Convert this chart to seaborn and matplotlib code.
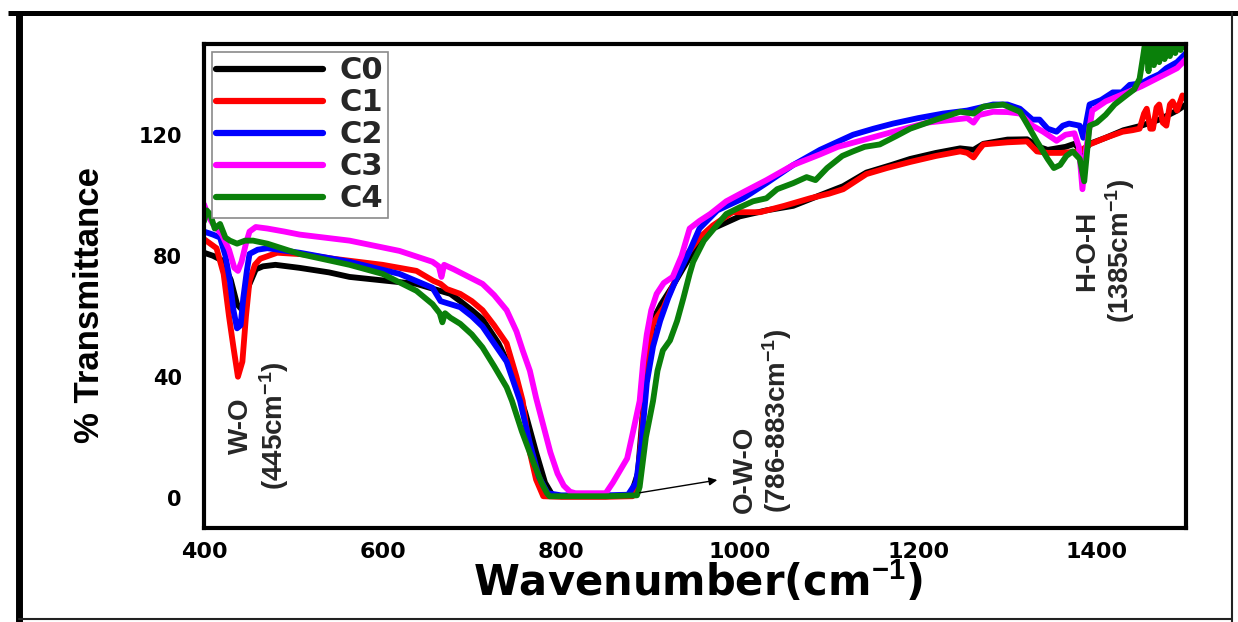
import matplotlib
matplotlib.use("Agg")
import matplotlib.pyplot as plt
import seaborn as sns
import pandas as pd
from matplotlib.lines import Line2D

# ---------------- data ----------------
labels = ["C0", "C1", "C2", "C3", "C4"]
colors = ["#000000", "#ff0000", "#0000ff", "#ff00ff", "#0a800a"]

c0_x = [400, 410, 420, 430, 437, 443, 450, 458, 466, 480, 507, 540, 563, 605, 638, 676, 687, 700, 712, 730, 746, 760, 772, 782, 790, 800, 850, 878,
        886, 892, 898, 905, 912, 925, 945, 970, 1000, 1030, 1060, 1090, 1116, 1142, 1170, 1191, 1220, 1247, 1262, 1273, 1300, 1322, 1335, 1345,
        1355, 1365, 1375, 1385, 1392, 1410, 1430, 1450, 1470, 1490, 1500]
c0_y = [81, 80, 78.5, 72, 64, 62, 70, 75.5, 76.5, 77, 76, 74.5, 73, 71.7, 70.7, 67.4, 65, 62, 59, 51, 41, 28, 15, 5, 1, 0.5, 0.5, 0.8,
        8, 30, 50, 60, 64, 70, 80, 89, 93, 95, 96.5, 100, 103, 107.5, 110, 112, 114, 115.5, 115, 117, 118.4, 118.5, 116, 115,
        115.5, 116, 117, 114, 117, 119, 121.5, 123, 125, 128, 130]

c1_x = [400, 407, 414, 422, 428, 433, 438, 443, 447, 451, 457, 463, 482, 510, 545, 600, 638, 657, 665, 672, 687, 700, 712, 725, 739, 750, 757,
        765, 772, 780, 800, 850, 880, 885, 890, 896, 902, 908, 915, 925, 940, 955, 970, 992, 1023, 1050, 1079, 1100, 1116, 1142, 1165, 1191,
        1220, 1247, 1255, 1262, 1268, 1273, 1300, 1322, 1333, 1345, 1360, 1381, 1392, 1410, 1429, 1440, 1448, 1453, 1456, 1460, 1463, 1467,
        1470, 1474, 1478, 1482, 1485, 1490, 1496, 1500]
c1_y = [85.5, 84, 82.5, 74, 60, 49.7, 40, 45, 60, 71.7, 77, 79, 81, 80.5, 79, 77, 75, 71.7, 70.7, 69, 67.4, 65, 62, 57, 51, 40, 32,
        15, 6, 0.5, 0.3, 0.3, 0.5, 3, 20, 45, 57, 60, 63, 70, 80, 86, 90, 94.4, 94.4, 96.5, 99, 100.5, 102, 107, 109, 111,
        113, 114.5, 114, 112.5, 115, 116.8, 117.5, 117.8, 114.5, 114, 114, 114.5, 116.8, 119, 121, 121.5, 122, 127, 128.6, 122, 122, 129,
        130, 124, 123, 130, 131, 128, 133, 132]

c2_x = [400, 410, 418, 424, 429, 433, 437, 441, 444, 448, 451, 460, 471, 507, 563, 619, 656, 665, 676, 687, 700, 712, 725, 739, 754, 765, 775,
        785, 800, 850, 875, 884, 890, 896, 903, 911, 920, 930, 944, 955, 975, 1004, 1030, 1060, 1090, 1127, 1150, 1172, 1200, 1228, 1255,
        1284, 1300, 1314, 1328, 1336, 1345, 1355, 1362, 1369, 1381, 1385, 1392, 1405, 1418, 1428, 1437, 1450, 1459, 1470, 1478, 1490, 1500]
c2_y = [88, 87, 86, 80, 71.7, 62, 56, 57, 66, 75, 80.6, 82, 82.5, 81, 78, 74, 69.4, 65, 64, 63, 60, 56.6, 51, 45, 32, 18, 7,
        1.5, 0.8, 0.8, 1, 5, 18, 38, 50, 58.5, 66, 73, 81.6, 89, 95, 99, 104, 110, 115, 120, 122, 123.7, 125.5, 127, 128,
        130, 130, 128.6, 125, 125, 122, 121, 123, 123.7, 123, 119, 130, 131.5, 134, 134, 136.5, 137, 138.5, 140, 142, 144, 147]

c3_x = [400, 405, 410, 420, 428, 434, 438, 442, 447, 451, 458, 471, 490, 507, 563, 619, 656, 663, 666, 669, 680, 690, 712, 725, 739, 750, 757,
        765, 772, 780, 788, 796, 803, 810, 816, 850, 858, 866, 874, 880, 888, 892, 896, 901, 907, 915, 925, 935, 944, 955, 967, 985, 1004,
        1030, 1060, 1090, 1110, 1135, 1172, 1210, 1240, 1255, 1262, 1268, 1284, 1300, 1314, 1328, 1340, 1355, 1365, 1375, 1380, 1384, 1388,
        1395, 1410, 1430, 1450, 1470, 1490, 1500]
c3_y = [97, 93, 90.5, 87, 82, 76, 75, 78, 84, 88, 89.5, 89, 88, 87, 85, 81.6, 78, 76.5, 73, 77, 75.5, 74, 70.7, 67, 62, 55, 48.7,
        42, 33, 24, 15, 8, 4, 2, 1.5, 1.5, 5, 9, 13, 21, 32, 45, 54, 62, 67.4, 71, 73, 80, 89, 91.5, 93.8, 98, 101,
        105, 110, 113.5, 116, 118, 121, 124, 125, 125.5, 124, 126.5, 127.6, 127.5, 127, 123, 121, 118, 120, 120.5, 116, 102, 115,
        128, 131, 133.5, 136, 139, 142, 145]

c4_x = [400, 403, 407, 412, 418, 424, 429, 437, 446, 455, 471, 507, 563, 600, 638, 656, 664, 667, 670, 676, 687, 700, 712, 725, 739, 745, 756,
        768, 778, 784, 787, 850, 885, 888, 895, 903, 908, 914, 922, 930, 937, 944, 948, 960, 985, 1000, 1015, 1030, 1042, 1060, 1075, 1085,
        1098, 1115, 1127, 1140, 1157, 1175, 1191, 1220, 1247, 1262, 1273, 1295, 1314, 1325, 1333, 1345, 1352, 1359, 1366, 1373, 1381, 1386,
        1392, 1400, 1410, 1420, 1433, 1442, 1448, 1452, 1455, 1458, 1461, 1464, 1467, 1470, 1473, 1476, 1479, 1482, 1485, 1488, 1491, 1494,
        1497, 1500]
c4_y = [91.4, 95, 93.7, 89, 90.5, 86, 85, 84, 85, 85, 84, 80.6, 77, 74, 68.4, 64, 61, 58, 61, 59.5, 57.5, 54, 49.7, 43.5, 36.5, 32, 22,
        12.5, 5, 1.6, 0.5, 0.5, 0.8, 3.6, 20, 32, 42, 48.7, 52, 58.5, 66, 74, 78, 85, 93.8, 96, 98, 99, 102, 104, 106, 105,
        109, 113, 114.5, 116, 116.8, 119.5, 122, 125, 127.6, 127, 129.3, 130, 127.6, 122, 117.8, 112, 109, 110, 113, 114.5, 112, 104.6,
        123, 124, 126.6, 130, 133, 135, 138.5, 146, 152, 141, 153, 143, 154, 144, 155, 145, 155, 146, 156, 147, 156, 148,
        156, 150]

xs = [c0_x, c1_x, c2_x, c3_x, c4_x]
ys = [c0_y, c1_y, c2_y, c3_y, c4_y]

x_major = [400, 600, 800, 1000, 1200, 1400]
x_minor = [500, 700, 900, 1100, 1300, 1500]
y_major = [0, 40, 80, 120]
y_minor = [20, 60, 100, 140]

# ---------------- styling ----------------
sns.set_style("white")
plt.rcParams["font.family"] = ["DejaVu Sans"]
plt.rcParams["mathtext.fontset"] = "custom"
plt.rcParams["mathtext.rm"] = "Liberation Sans:bold"
plt.rcParams["mathtext.it"] = "Liberation Sans:bold"
plt.rcParams["mathtext.bf"] = "Liberation Sans:bold"
plt.rcParams["mathtext.default"] = "rm"

NARROW = ["Liberation Sans", "DejaVu Sans"]

fig = plt.figure(figsize=(12.38, 6.22), dpi=100)
fig.patch.set_facecolor("white")
ax = fig.add_axes([204 / 1238, 1 - 528 / 622, (1186 - 204) / 1238, (528 - 44) / 622])

for lab, col, xv, yv in zip(labels, colors, xs, ys):
    df = pd.DataFrame({"Wavenumber": xv, "T": yv})
    sns.lineplot(data=df, x="Wavenumber", y="T", color=col, linewidth=4.2,
                 label=lab, ax=ax, estimator=None, sort=False)

ax.set_xlim(400, 1500)
ax.set_ylim(-10, 150)
ax.set_xticks(x_major)
ax.set_xticks(x_minor, minor=True)
ax.set_yticks(y_major)
ax.set_yticks(y_minor, minor=True)

for s in ax.spines.values():
    s.set_linewidth(3)
    s.set_color("black")
    s.set_visible(True)

ax.tick_params(axis="both", which="both", direction="out", width=2.5, color="black",
               top=False, right=False)
ax.tick_params(axis="y", which="major", length=9, pad=7)
ax.tick_params(axis="y", which="minor", length=9)
ax.tick_params(axis="x", which="major", length=8, pad=2)
ax.tick_params(axis="x", which="minor", length=6)
for t in ax.get_yticklabels():
    t.set_fontsize(15)
    t.set_fontweight("bold")
    t.set_color("black")
for t in ax.get_xticklabels():
    t.set_fontsize(16)
    t.set_fontweight("bold")
    t.set_color("black")

ax.set_xlabel(r"Wavenumber(cm$^{-1}$)", fontsize=30, fontweight="bold", family="DejaVu Sans", color="black")
ax.xaxis.set_label_coords(0.503, -0.065)
ax.set_ylabel("% Transmittance", fontsize=25, fontweight="bold", family=NARROW, color="black")
ax.yaxis.set_label_coords(-0.1, 0.46)

leg = ax.legend(loc="upper left", prop={"family": "DejaVu Sans", "weight": "bold", "size": 22},
                handlelength=3.5, handletextpad=0.55, labelspacing=0.1, borderpad=0.15,
                borderaxespad=0.25, frameon=True, fancybox=False, framealpha=1)
leg.get_frame().set_edgecolor("#8a8a8a")
leg.get_frame().set_linewidth(1.2)
for h in leg.get_lines():
    h.set_linewidth(4.5)

# annotations (rotated, anchored by their lower edge)
ax.text(462, 2.6, "W-O\n(445cm$^{-1}$)", rotation=90, ha="center", va="bottom",
        multialignment="center", fontsize=20, fontweight="bold", family=NARROW, linespacing=1.1)
ax.text(1026, -5, "O-W-O\n(786-883cm$^{-1}$)", rotation=90, ha="center", va="bottom",
        multialignment="left", fontsize=20, fontweight="bold", family=NARROW, linespacing=1.1)
ax.text(1410, 57.9, "H-O-H\n(1385cm$^{-1}$)", rotation=90, ha="center", va="bottom",
        multialignment="center", fontsize=20, fontweight="bold", family=NARROW, linespacing=1.1)
ax.annotate("", xy=(978, 6), xytext=(885, 1.5),
            arrowprops=dict(arrowstyle="-|>", color="black", lw=1, mutation_scale=12))

# outer frame of the screenshot
fig.add_artist(Line2D([8 / 1238, 1.0], [1 - 12.5 / 622] * 2, transform=fig.transFigure, color="black", lw=3.6,
                      solid_capstyle="butt"))
fig.add_artist(Line2D([19 / 1238] * 2, [0, 1 - 12.5 / 622], transform=fig.transFigure, color="black", lw=5,
                      solid_capstyle="butt"))
fig.add_artist(Line2D([1232 / 1238] * 2, [0, 1 - 12.5 / 622], transform=fig.transFigure, color="#222222", lw=1.5))
fig.add_artist(Line2D([19 / 1238, 1232 / 1238], [3 / 622] * 2, transform=fig.transFigure, color="#222222", lw=1.5))

fig.savefig("out.png", dpi=100, facecolor="white")
